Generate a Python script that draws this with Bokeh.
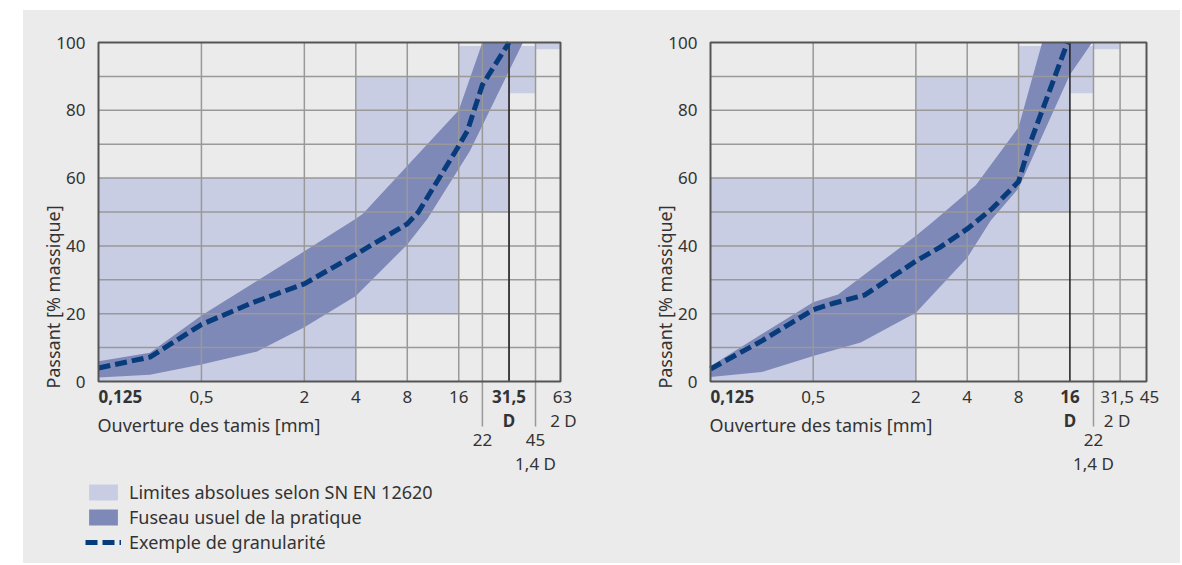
import math
from bokeh.plotting import figure
from bokeh.models import Range1d, FixedTicker, Legend, LegendItem
from bokeh.layouts import row, column, Spacer
from bokeh.embed import file_html
from bokeh.resources import INLINE
from bokeh.core.properties import value

# ---------------- data ----------------
y_ticks = [0, 20, 40, 60, 80, 100]
y_grid = [10, 20, 30, 40, 50, 60, 70, 80, 90]
x_min = 0.125

# Left chart (D = 31,5)
L_xmax = 63
L_grid_x = [0.5, 2, 4, 8, 16, 22, 31.5, 45]
L_D = [31.5]
L_ext_ticks = [22, 45]
L_box_left = [0.125, 4, 16, 31.5, 45]
L_box_right = [4, 16, 31.5, 45, 63]
L_box_bottom = [0, 20, 50, 85, 98]
L_box_top = [60, 90, 99, 99, 100]
L_up_x = [0.125, 0.25, 0.5, 2, 4, 4.4, 16, 22]
L_up_y = [6, 8.5, 19.5, 38.4, 48, 49.5, 80, 100]
L_lo_x = [0.125, 0.25, 0.5, 1.05, 2, 4, 8, 10.5, 18.6, 38]
L_lo_y = [1.2, 2, 5, 8.8, 16, 25.2, 40.4, 48, 68, 100]
L_ex_x = [0.125, 0.25, 0.5, 1, 2, 4, 8, 9.3, 16, 18, 22, 31.5]
L_ex_y = [4, 7.2, 16.8, 23.3, 28.8, 37.5, 46.5, 50, 69.5, 74, 87.5, 100]
L_tick_x = [0.125, 0.5, 2, 4, 8, 16, 31.5, 63]
L_tick_txt = ["0,125", "0,5", "2", "4", "8", "16", "31,5", "63"]
L_tick_bold = [True, False, False, False, False, False, True, False]
L_extra_x = [31.5, 63, 22, 45, 45]
L_extra_txt = ["D", "2 D", "22", "45", "1,4 D"]
L_extra_row = [2, 2, 3, 3, 4]
L_extra_bold = [True, False, False, False, False]

# Right chart (D = 16)
R_xmax = 45
R_grid_x = [0.5, 2, 4, 8, 22, 31.5]
R_D = [16]
R_ext_ticks = [22]
R_box_left = [0.125, 2, 8, 16, 22]
R_box_right = [2, 8, 16, 22, 31.5]
R_box_bottom = [0, 20, 50, 85, 98]
R_box_top = [60, 90, 99, 99, 100]
R_up_x = [0.125, 0.25, 0.5, 0.7, 2, 2.5, 4.5, 8, 11]
R_up_y = [4.5, 14, 23.4, 25.7, 43, 47, 58, 75, 100]
R_lo_x = [0.125, 0.25, 0.5, 0.95, 2, 4, 5.5, 8, 16, 21.6]
R_lo_y = [1.3, 2.8, 7.5, 11.5, 20.3, 36.5, 47.5, 57, 90.5, 100]
R_ex_x = [0.125, 0.25, 0.5, 0.65, 1, 2, 2.75, 4, 5.6, 8, 9.3, 12, 15.5]
R_ex_y = [3.7, 12, 21.2, 23, 25.5, 35.5, 39.5, 45, 51, 59, 70, 85, 100]
R_tick_x = [0.125, 0.5, 2, 4, 8, 16, 31.5, 45]
R_tick_txt = ["0,125", "0,5", "2", "4", "8", "16", "31,5", "45"]
R_tick_bold = [True, False, False, False, False, True, False, False]
R_extra_x = [16, 31.5, 22, 22]
R_extra_txt = ["D", "2 D", "22", "1,4 D"]
R_extra_row = [2, 2, 3, 4]
R_extra_bold = [True, False, False, False]

legend_labels = ["Limites absolues selon SN EN 12620",
                 "Fuseau usuel de la pratique",
                 "Exemple de granularité"]
x_title = "Ouverture des tamis [mm]"
y_title = "Passant [% massique]"

# ---------------- style / geometry ----------------
FONT = "Noto Sans"
FS = "17px"        # tick labels
FS_T = "18px"      # titles and legend
TXT = "#333333"
BG = "#ebebeb"
LIGHT = "#c9cde3"
BAND = "#7e89b8"
LINE = "#073b7b"
GRID = "#999999"

PLOT_H = 339                # pixel height of the 0..100 area
PXU = PLOT_H / 100.0        # pixels per % unit
TOP_PAD = 5                 # frame pixels above 100 %
BOT_PAD = 175               # frame pixels below 0 %
ROW_PX = {1: 15, 2: 39, 3: 58, 4: 82}
XTITLE_PX = 43
EXT_PX = 45
FIG_H = 553
BORDER_TOP = 27


def make_chart(xmax, grid_x, d_val, ext_ticks, bl, br, bb, bt, ux, uy, lx, ly, ex, ey,
               tx, tt, tb, xx, xt, xr, xb, width, bleft, pad_left, plot_w,
               label_standoff, offsets):
    frame_w = width - bleft
    k = plot_w / math.log10(xmax / x_min)
    x_start = x_min / 10 ** (pad_left / k)
    x_end = xmax * 10 ** ((frame_w - pad_left - plot_w) / k)
    y_start = -BOT_PAD / PXU
    y_end = 100 + TOP_PAD / PXU
    p = figure(width=width, height=FIG_H, x_axis_type="log",
               x_range=Range1d(x_start, x_end), y_range=Range1d(y_start, y_end),
               output_backend="svg", toolbar_location=None,
               min_border_left=bleft, min_border_right=0,
               min_border_top=BORDER_TOP,
               min_border_bottom=FIG_H - BORDER_TOP - (PLOT_H + TOP_PAD + BOT_PAD),
               background_fill_color=BG, border_fill_color=BG,
               outline_line_color=None)
    p.xaxis.visible = False
    p.xgrid.visible = False
    p.ygrid.visible = False

    boxes = p.quad(left=bl, right=br, bottom=bb, top=bt, fill_color=LIGHT,
                   line_color=None)
    band = p.patch(x=lx + ux[::-1], y=ly + uy[::-1], fill_color=BAND,
                   line_color=None)
    # grid lines
    p.segment(x0=grid_x, y0=[0] * len(grid_x), x1=grid_x, y1=[100] * len(grid_x),
              line_color=GRID, line_width=1.5)
    p.segment(x0=ext_ticks, y0=[0] * len(ext_ticks), x1=ext_ticks,
              y1=[-EXT_PX / PXU] * len(ext_ticks), line_color=GRID, line_width=1.5)
    p.segment(x0=[x_min] * len(y_grid), y0=y_grid, x1=[xmax] * len(y_grid), y1=y_grid,
              line_color=GRID, line_width=1.5)
    p.segment(x0=d_val, y0=[0], x1=d_val, y1=[100], line_color="#1e1e1e",
              line_width=1.5)
    ex_r = p.line(ex, ey, line_color=LINE, line_width=5, line_dash="12 5",
                  line_cap="butt")
    # plot-area outline
    p.quad(left=[x_min], right=[xmax], bottom=[0], top=[100], fill_color=None,
           line_color="#555555", line_width=2)

    ya = p.yaxis[0]
    ya.ticker = FixedTicker(ticks=y_ticks)
    ya.axis_line_color = None
    ya.major_tick_line_color = None
    ya.minor_tick_line_color = None
    ya.major_label_standoff = label_standoff
    ya.major_label_text_font = FONT
    ya.major_label_text_font_size = FS
    ya.major_label_text_color = TXT
    ya.axis_label = y_title
    ya.axis_label_text_font = FONT
    ya.axis_label_text_font_size = FS_T
    ya.axis_label_text_font_style = "normal"
    ya.axis_label_text_color = TXT
    ya.axis_label_standoff = -12

    def put(xs, txts, bolds, rows, first_left):
        for b in (True, False):
            for al in ("left", "center"):
                sel = [i for i in range(len(xs)) if bolds[i] == b and
                       (("left" if (first_left and i == 0) else "center") == al)]
                if not sel:
                    continue
                p.text(x=[xs[i] for i in sel],
                       y=[-ROW_PX[rows[i]] / PXU for i in sel],
                       text=[txts[i] for i in sel],
                       x_offset=[offsets.get(txts[i], 0) for i in sel],
                       text_font=value(FONT), text_font_size=FS,
                       text_font_style="bold" if b else "normal",
                       text_color=TXT, text_align=al, text_baseline="middle")

    put(tx, tt, tb, [1] * len(tx), True)
    put(xx, xt, xb, xr, False)
    p.text(x=[x_min], y=[-XTITLE_PX / PXU], text=[x_title], x_offset=-1,
           text_font=value(FONT), text_font_size=FS_T, text_color=TXT,
           text_align="left", text_baseline="middle")
    return p, boxes, band, ex_r


p1, b1, band1, ex1 = make_chart(L_xmax, L_grid_x, L_D, L_ext_ticks,
                                L_box_left, L_box_right, L_box_bottom, L_box_top,
                                L_up_x, L_up_y, L_lo_x, L_lo_y, L_ex_x, L_ex_y,
                                L_tick_x, L_tick_txt, L_tick_bold,
                                L_extra_x, L_extra_txt, L_extra_row, L_extra_bold,
                                width=587, bleft=62, pad_left=13, plot_w=462,
                                label_standoff=-6,
                                offsets={"63": 2, "2 D": 3})
p2, b2, band2, ex2 = make_chart(R_xmax, R_grid_x, R_D, R_ext_ticks,
                                R_box_left, R_box_right, R_box_bottom, R_box_top,
                                R_up_x, R_up_y, R_lo_x, R_lo_y, R_ex_x, R_ex_y,
                                R_tick_x, R_tick_txt, R_tick_bold,
                                R_extra_x, R_extra_txt, R_extra_row, R_extra_bold,
                                width=570, bleft=87, pad_left=13, plot_w=436,
                                label_standoff=-6,
                                offsets={"31,5": -3, "2 D": -3, "45": 3})

legend = Legend(items=[LegendItem(label=legend_labels[0], renderers=[b1]),
                       LegendItem(label=legend_labels[1], renderers=[band1]),
                       LegendItem(label=legend_labels[2], renderers=[ex1])],
                location=(0, 2), orientation="vertical",
                glyph_width=36, glyph_height=20, label_height=20,
                label_standoff=8, spacing=1, padding=0, margin=0,
                background_fill_alpha=0, border_line_color=None,
                label_text_font=FONT, label_text_font_size=FS_T,
                label_text_color=TXT)
p1.add_layout(legend)

charts = row(p1, p2, spacing=0, styles={"background-color": BG})
layout = column(Spacer(width=10, height=10),
                row(Spacer(width=23, height=FIG_H), charts))

open("out.html", "w").write(file_html(layout, INLINE))
